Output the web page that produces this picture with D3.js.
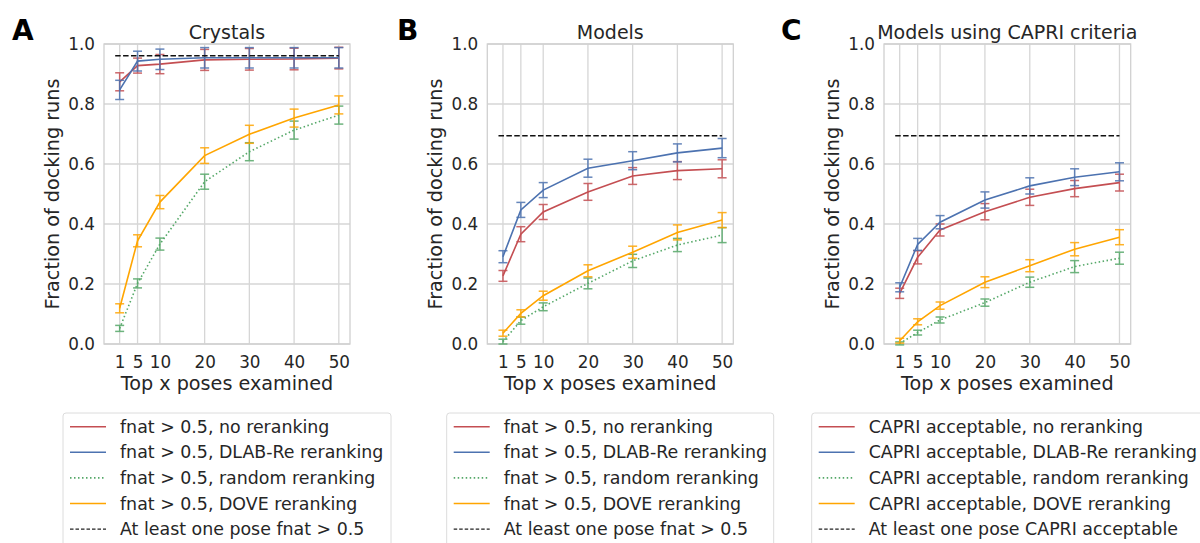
<html>
<head>
<meta charset="utf-8">
<title>Docking reranking</title>
<script src="https://cdn.jsdelivr.net/npm/d3@7"></script>
<style>
  body { margin: 0; background: #fff; }
  svg text { font-family: "DejaVu Sans", sans-serif; fill: #262626; }
</style>
</head>
<body>
<div id="chart"></div>
<script>
// x values: top x poses examined
var poses = [1, 5, 10, 20, 30, 40, 50];
var yTicks = [0, 0.2, 0.4, 0.6, 0.8, 1.0];

// A - Crystals
var crysNone      = [0.874, 0.928, 0.933, 0.947, 0.949, 0.950, 0.953];
var crysNoneErr   = [0.030, 0.025, 0.032, 0.035, 0.036, 0.036, 0.036];
var crysDlab      = [0.847, 0.943, 0.949, 0.954, 0.954, 0.954, 0.954];
var crysDlabErr   = [0.032, 0.033, 0.034, 0.034, 0.034, 0.034, 0.034];
var crysRandom    = [0.052, 0.202, 0.333, 0.541, 0.641, 0.713, 0.763];
var crysRandomErr = [0.010, 0.015, 0.020, 0.025, 0.030, 0.030, 0.030];
var crysDove      = [0.119, 0.344, 0.473, 0.628, 0.699, 0.753, 0.797];
var crysDoveErr   = [0.015, 0.020, 0.022, 0.026, 0.030, 0.030, 0.030];
var crysBest = 0.961;

// B - Models
var modNone      = [0.227, 0.366, 0.440, 0.507, 0.560, 0.578, 0.584];
var modNoneErr   = [0.018, 0.025, 0.025, 0.028, 0.028, 0.030, 0.030];
var modDlab      = [0.291, 0.447, 0.513, 0.586, 0.611, 0.637, 0.653];
var modDlabErr   = [0.020, 0.025, 0.025, 0.030, 0.030, 0.030, 0.032];
var modRandom    = [0.008, 0.078, 0.124, 0.202, 0.277, 0.330, 0.363];
var modRandomErr = [0.008, 0.012, 0.013, 0.018, 0.022, 0.022, 0.025];
var modDove      = [0.036, 0.102, 0.161, 0.244, 0.306, 0.372, 0.413];
var modDoveErr   = [0.010, 0.012, 0.015, 0.020, 0.020, 0.025, 0.025];
var modBest = 0.694;

// C - Models using CAPRI criteria
var capNone      = [0.169, 0.289, 0.380, 0.441, 0.489, 0.518, 0.538];
var capNoneErr   = [0.017, 0.022, 0.020, 0.027, 0.027, 0.027, 0.028];
var capDlab      = [0.189, 0.332, 0.406, 0.480, 0.527, 0.556, 0.574];
var capDlabErr   = [0.015, 0.020, 0.022, 0.027, 0.027, 0.028, 0.030];
var capRandom    = [0.002, 0.038, 0.080, 0.138, 0.206, 0.258, 0.286];
var capRandomErr = [0.005, 0.008, 0.010, 0.012, 0.017, 0.020, 0.020];
var capDove      = [0.011, 0.074, 0.128, 0.206, 0.261, 0.316, 0.356];
var capDoveErr   = [0.008, 0.010, 0.012, 0.018, 0.020, 0.022, 0.025];
var capBest = 0.694;

var fnatLabels = ["fnat > 0.5, no reranking", "fnat > 0.5, DLAB-Re reranking",
    "fnat > 0.5, random reranking", "fnat > 0.5, DOVE reranking", "At least one pose fnat > 0.5"];
var capriLabels = ["CAPRI acceptable, no reranking", "CAPRI acceptable, DLAB-Re reranking",
    "CAPRI acceptable, random reranking", "CAPRI acceptable, DOVE reranking", "At least one pose CAPRI acceptable"];

var colors = ["#c44e52", "#4c72b0", "#55a868", "#ffa500"];
var dashes = [null, null, "1.5,2.5", null];

var panels = [
    { letter: "A", title: "Crystals", left: 104, right: 350, legendX: 63, legendW: 328, labels: fnatLabels,
      series: [[crysNone, crysNoneErr], [crysDlab, crysDlabErr], [crysRandom, crysRandomErr], [crysDove, crysDoveErr]],
      best: crysBest, letterX: 12 },
    { letter: "B", title: "Models", left: 487.3, right: 733.3, legendX: 446.7, legendW: 327, labels: fnatLabels,
      series: [[modNone, modNoneErr], [modDlab, modDlabErr], [modRandom, modRandomErr], [modDove, modDoveErr]],
      best: modBest, letterX: 397 },
    { letter: "C", title: "Models using CAPRI criteria", left: 884, right: 1130.7, legendX: 811.7, legendW: 400, labels: capriLabels,
      series: [[capNone, capNoneErr], [capDlab, capDlabErr], [capRandom, capRandomErr], [capDove, capDoveErr]],
      best: capBest, letterX: 781 }
];

var W = 1200, H = 543, plotTop = 44, plotBottom = 344;

var svg = d3.select("#chart").append("svg")
    .attr("width", W).attr("height", H);

panels.forEach(function (p) {
    var x = d3.scaleLinear().domain([-2.5, 52.5]).range([p.left, p.right]);
    var y = d3.scaleLinear().domain([0, 1]).range([plotBottom, plotTop]);
    var g = svg.append("g");

    // grid
    g.selectAll("line.vg").data(poses).enter().append("line")
        .attr("x1", function (d) { return x(d); }).attr("x2", function (d) { return x(d); })
        .attr("y1", plotTop).attr("y2", plotBottom)
        .attr("stroke", "#d6d6d6").attr("stroke-width", 1.3);
    g.selectAll("line.hg").data(yTicks).enter().append("line")
        .attr("x1", p.left).attr("x2", p.right)
        .attr("y1", function (d) { return y(d); }).attr("y2", function (d) { return y(d); })
        .attr("stroke", "#d6d6d6").attr("stroke-width", 1.3);
    g.append("rect").attr("x", p.left).attr("y", plotTop)
        .attr("width", p.right - p.left).attr("height", plotBottom - plotTop)
        .attr("fill", "none").attr("stroke", "#d0d0d0").attr("stroke-width", 1.3);

    // axes (labels only, seaborn style)
    var xa = g.append("g").attr("transform", "translate(0," + plotBottom + ")")
        .call(d3.axisBottom(x).tickValues(poses).tickSize(0).tickPadding(12));
    var ya = g.append("g").attr("transform", "translate(" + p.left + ",0)")
        .call(d3.axisLeft(y).tickValues(yTicks).tickSize(0).tickPadding(9).tickFormat(d3.format(".1f")));
    [xa, ya].forEach(function (a) {
        a.select(".domain").remove();
        a.selectAll("text").attr("font-size", 16.8).attr("font-family", "DejaVu Sans").attr("fill", "#262626");
    });

    // series
    var line = d3.line().x(function (d) { return x(d[0]); }).y(function (d) { return y(d[1]); });
    p.series.forEach(function (s, i) {
        var pts = poses.map(function (v, k) { return [v, s[0][k], s[1][k]]; });
        var eb = g.append("g").attr("stroke", colors[i]).attr("stroke-width", 1.5).attr("opacity", 0.85);
        pts.forEach(function (d) {
            var cx = x(d[0]), y0 = y(d[1] - d[2]), y1 = y(d[1] + d[2]);
            eb.append("line").attr("x1", cx).attr("x2", cx).attr("y1", y0).attr("y2", y1);
            eb.append("line").attr("x1", cx - 4.5).attr("x2", cx + 4.5).attr("y1", y0).attr("y2", y0);
            eb.append("line").attr("x1", cx - 4.5).attr("x2", cx + 4.5).attr("y1", y1).attr("y2", y1);
        });
        g.append("path").datum(pts).attr("d", line)
            .attr("fill", "none").attr("stroke", colors[i]).attr("stroke-width", 1.6)
            .attr("stroke-dasharray", dashes[i]);
    });
    g.append("line").attr("x1", x(0)).attr("x2", x(50))
        .attr("y1", y(p.best)).attr("y2", y(p.best))
        .attr("stroke", "#111").attr("stroke-width", 1.5).attr("stroke-dasharray", "5.5,2.4");

    // labels
    g.append("text").attr("x", (p.left + p.right) / 2).attr("y", 38.5)
        .attr("text-anchor", "middle").attr("font-size", 19).text(p.title);
    g.append("text").attr("x", (p.left + p.right) / 2).attr("y", 389.5)
        .attr("text-anchor", "middle").attr("font-size", 19.2).text("Top x poses examined");
    g.append("text").attr("transform", "translate(" + (p.left - 45.5) + "," + ((plotTop + plotBottom) / 2) + ") rotate(-90)")
        .attr("text-anchor", "middle").attr("font-size", 19.2).text("Fraction of docking runs");
    g.append("text").attr("x", p.letterX).attr("y", 40)
        .attr("font-size", 28).attr("font-weight", "bold").style("fill", "#000").text(p.letter);

    // legend
    var lg = g.append("g").attr("transform", "translate(" + p.legendX + ",413)");
    lg.append("rect").attr("width", p.legendW).attr("height", 150).attr("rx", 3)
        .attr("fill", "#fff").attr("stroke", "#dcdcdc").attr("stroke-width", 1);
    var lc = colors.concat(["#222"]);
    var ld = dashes.concat(["3.5,2"]);
    p.labels.forEach(function (t, i) {
        var ry = 13.7 + i * 25.6;
        lg.append("line").attr("x1", 7).attr("x2", 43).attr("y1", ry).attr("y2", ry)
            .attr("stroke", lc[i]).attr("stroke-width", i === 4 ? 1.4 : 1.6).attr("stroke-dasharray", ld[i]);
        lg.append("text").attr("x", 57).attr("y", ry + 6).attr("font-size", 17.4).text(t);
    });
});
</script>
</body>
</html>
